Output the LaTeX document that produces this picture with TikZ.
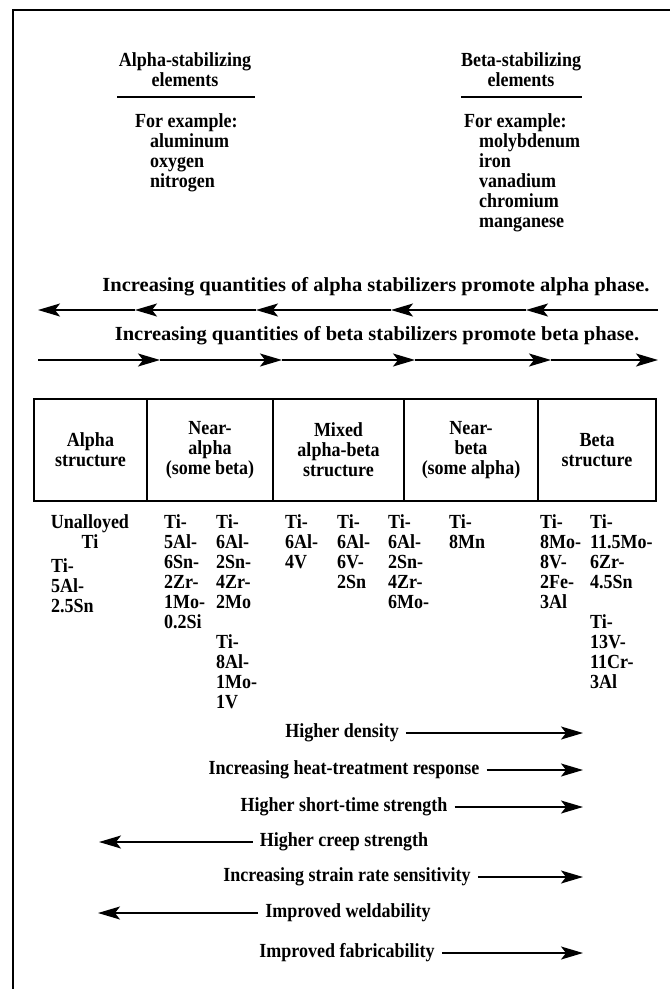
\documentclass[tikz,border=0pt]{standalone}
\usepackage{fontspec}
\setmainfont{Liberation Serif}
\usetikzlibrary{arrows.meta, positioning}
\newcommand\ind{\hspace*{15pt}}

\begin{document}
\begin{tikzpicture}[
  x=1pt, y=-1pt,
  font=\bfseries\fontsize{20}{20}\selectfont\addfontfeatures{FakeStretch=0.9},
  head/.style={align=center, inner sep=0pt, anchor=north},
  exlist/.style={align=left, inner sep=0pt, anchor=north west},
  phase/.style={inner sep=0pt,
           font=\bfseries\fontsize{20}{20}\selectfont\addfontfeatures{FakeStretch=1.025}},
  cell/.style={draw, line width=1.7pt, outer sep=0pt, minimum height=102pt,
           align=center, inner sep=0pt},
  alloy/.style={align=left, inner sep=0pt, anchor=north west},
  prop/.style={inner sep=7pt},
  arr/.style={-{Stealth[length=22pt, width=13pt, inset=5pt]}, line width=1.5pt},
  frame/.style={line width=2.2pt},
  bar/.style={line width=2pt}
]
  \useasboundingbox (0,0) rectangle (670,989);
  \draw[frame] (13,989) -- (13,10) -- (670,10);

  \node[head] (alphahd) at (185,52) {Alpha-stabilizing\\elements};
  \node[head] (betahd)  at (521,52) {Beta-stabilizing\\elements};
  \draw[bar] (117,97) -- (255,97);
  \draw[bar] (461,97) -- (582,97);
  \node[exlist] (alphaex) at (135,113) {For example:\\\ind aluminum\\\ind oxygen\\\ind nitrogen};
  \node[exlist] (betaex)  at (464,113) {For example:\\\ind molybdenum\\\ind iron\\\ind vanadium\\\ind chromium\\\ind manganese};

  \node[phase] (alphaph) at (376,287) {Increasing quantities of alpha stabilizers promote alpha phase.};
  \node[phase] (betaph)  at (377,336) {Increasing quantities of beta stabilizers promote beta phase.};

  \coordinate (al1) at (658,310); \coordinate (al2) at (526,310); \coordinate (al3) at (391,310);
  \coordinate (al4) at (256,310); \coordinate (al5) at (135,310); \coordinate (al6) at (38,310);
  \draw[arr] (al1) -- (al2); \draw[arr] (al2) -- (al3); \draw[arr] (al3) -- (al4);
  \draw[arr] (al4) -- (al5); \draw[arr] (al5) -- (al6);

  \coordinate (be1) at (38,360);  \coordinate (be2) at (160,360); \coordinate (be3) at (282,360);
  \coordinate (be4) at (415,360); \coordinate (be5) at (551,360); \coordinate (be6) at (658,360);
  \draw[arr] (be1) -- (be2); \draw[arr] (be2) -- (be3); \draw[arr] (be3) -- (be4);
  \draw[arr] (be4) -- (be5); \draw[arr] (be5) -- (be6);

  \node[cell, minimum width=113pt, anchor=west] (calpha) at (34,450) {Alpha\\structure};
  \node[cell, minimum width=126pt] (cneara) [right=0pt of calpha] {Near-\\alpha\\(some beta)};
  \node[cell, minimum width=131pt] (cmixed) [right=0pt of cneara] {Mixed\\alpha-beta\\structure};
  \node[cell, minimum width=134pt] (cnearb) [right=0pt of cmixed] {Near-\\beta\\(some alpha)};
  \node[cell, minimum width=118pt] (cbeta)  [right=0pt of cnearb] {Beta\\structure};

  \node[alloy, align=center, anchor=north] (unalloyed) at (90,514) {Unalloyed\\Ti};
  \node[alloy] (ti5a) at (51,558)  {Ti-\\5Al-\\2.5Sn};
  \node[alloy] (ti5b) at (164,514) {Ti-\\5Al-\\6Sn-\\2Zr-\\1Mo-\\0.2Si};
  \node[alloy] (ti6a) at (216,514) {Ti-\\6Al-\\2Sn-\\4Zr-\\2Mo};
  \node[alloy] (ti8a) at (216,634) {Ti-\\8Al-\\1Mo-\\1V};
  \node[alloy] (ti6b) at (285,514) {Ti-\\6Al-\\4V};
  \node[alloy] (ti6c) at (337,514) {Ti-\\6Al-\\6V-\\2Sn};
  \node[alloy] (ti6d) at (388,514) {Ti-\\6Al-\\2Sn-\\4Zr-\\6Mo-};
  \node[alloy] (ti8m) at (449,514) {Ti-\\8Mn};
  \node[alloy] (ti8b) at (540,514) {Ti-\\8Mo-\\8V-\\2Fe-\\3Al};
  \node[alloy] (ti11) at (590,514) {Ti-\\11.5Mo-\\6Zr-\\4.5Sn};
  \node[alloy] (ti13) at (590,614) {Ti-\\13V-\\11Cr-\\3Al};

  \node[prop] (pdens)  at (342,733) {Higher density};
  \node[prop] (pheat)  at (344,770) {Increasing heat-treatment response};
  \node[prop] (pshort) at (344,807) {Higher short-time strength};
  \node[prop] (pcreep) at (344,842) {Higher creep strength};
  \node[prop] (pstrain) at (347,877) {Increasing strain rate sensitivity};
  \node[prop] (pweld)  at (348,913) {Improved weldability};
  \node[prop] (pfab)   at (347,953) {Improved fabricability};

  \coordinate (pdensE) at (583,733);  \coordinate (pheatE) at (583,770);
  \coordinate (pshortE) at (583,807); \coordinate (pcreepW) at (99,842);
  \coordinate (pstrainE) at (583,877); \coordinate (pweldW) at (98,913);
  \coordinate (pfabE) at (583,953);

  \draw[arr] (pdens) -- (pdensE);
  \draw[arr] (pheat) -- (pheatE);
  \draw[arr] (pshort) -- (pshortE);
  \draw[arr] (pcreep) -- (pcreepW);
  \draw[arr] (pstrain) -- (pstrainE);
  \draw[arr] (pweld) -- (pweldW);
  \draw[arr] (pfab) -- (pfabE);
\end{tikzpicture}
\end{document}
